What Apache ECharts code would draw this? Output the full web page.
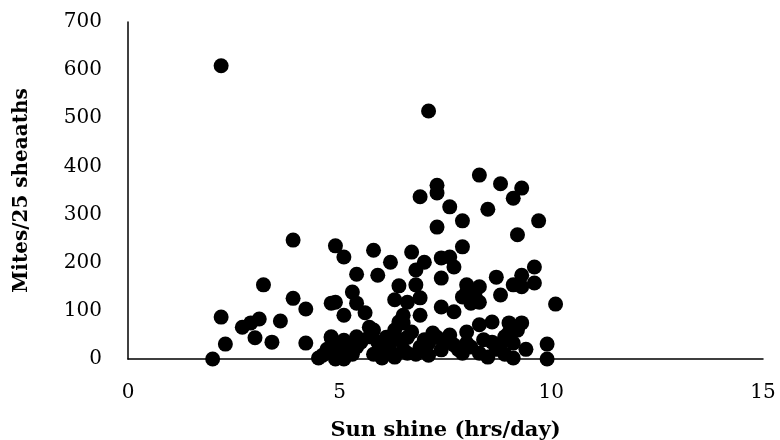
<!DOCTYPE html>
<html>
<head>
<meta charset="utf-8">
<script src="https://cdn.jsdelivr.net/npm/echarts@6/dist/echarts.min.js"></script>
<style>
  html, body { margin: 0; padding: 0; background: #fff; }
  #chart { width: 780px; height: 440px; }
</style>
</head>
<body>
<div id="chart"></div>
<script>
// sunshine (hrs/day) and mites per 25 sheaths
var sunshine = [
    2.0, 2.2, 2.2, 2.3, 2.7, 2.9, 3.0, 3.1, 3.2, 3.4,
    3.6, 3.9, 3.9, 4.2, 4.2, 4.5, 4.6, 4.8, 4.8, 4.9,
    4.9, 4.9, 4.9, 4.8, 5.1, 5.1, 5.1, 5.1, 5.3, 5.4,
    5.4, 5.4, 5.4, 5.6, 5.7, 5.7, 5.8, 5.8, 5.9, 5.9,
    6.0, 6.0, 6.2, 6.3, 6.3, 6.3, 6.4, 6.4, 6.5, 6.5,
    6.6, 6.6, 6.7, 6.7, 6.8, 6.8, 6.9, 6.9, 6.9, 6.9,
    7.0, 7.1, 7.1, 7.1, 7.2, 7.3, 7.3, 7.3, 7.4, 7.4,
    7.4, 7.4, 7.6, 7.6, 7.6, 7.7, 7.7, 7.7, 7.9, 7.9,
    7.9, 7.9, 8.0, 8.0, 8.0, 8.0, 8.1, 8.3, 8.3, 8.3,
    8.3, 8.3, 8.2, 8.5, 8.5, 8.6, 8.6, 8.7, 8.8, 8.8,
    8.9, 9.0, 9.1, 9.1, 9.1, 9.1, 9.2, 9.3, 9.3, 9.3,
    9.3, 9.6, 9.6, 9.7, 9.9, 9.9, 10.1, 5.2, 5.5, 6.1,
    6.2, 6.4, 6.6, 7.0, 7.3, 7.8, 8.4, 8.7, 8.8, 9.0,
    9.2, 4.7, 5.0, 5.3, 6.2, 6.8, 5.8, 6.1, 6.5, 7.5,
    8.1, 8.9, 9.4
];
var mites = [
    0, 609, 87, 31, 66, 75, 44, 83, 154, 35,
    79, 247, 126, 104, 33, 2, 8, 44, 116, 118,
    235, 25, 0, 46, 212, 91, 39, 0, 139, 176,
    116, 25, 46, 96, 66, 46, 226, 60, 174, 35,
    19, 2, 201, 123, 60, 4, 152, 77, 75, 91,
    118, 12, 222, 56, 154, 185, 25, 127, 91, 337,
    201, 515, 8, 33, 54, 361, 345, 274, 19, 210,
    168, 108, 316, 212, 50, 191, 98, 29, 287, 233,
    129, 12, 154, 139, 33, 56, 116, 150, 118, 382,
    71, 12, 130, 311, 4, 77, 35, 170, 364, 133,
    46, 75, 334, 154, 33, 2, 258, 355, 174, 150,
    75, 191, 158, 287, 31, 0, 114, 30, 35, 30,
    15, 40, 45, 40, 45, 20, 40, 20, 30, 55,
    60, 20, 15, 10, 35, 10, 10, 45, 20, 35,
    25, 10, 20
];

var points = sunshine.map(function (x, i) {
    return [x, mites[i]];
});

var myChart = echarts.init(document.getElementById('chart'));
myChart.setOption({
    backgroundColor: '#ffffff',
    animation: false,
    textStyle: {
        fontFamily: 'DejaVu Serif'
    },
    grid: {
        left: 128,
        right: 17,
        top: 22,
        bottom: 81,
        containLabel: false,
        outerBoundsMode: 'none'
    },
    xAxis: {
        type: 'value',
        min: 0,
        max: 15,
        interval: 5,
        name: 'Sun shine (hrs/day)',
        nameLocation: 'middle',
        nameGap: 61,
        nameTextStyle: {
            fontFamily: 'DejaVu Serif',
            fontWeight: 'bold',
            fontSize: 21,
            color: '#000'
        },
        axisLine: {
            lineStyle: {color: '#000', width: 1.5}
        },
        axisTick: {show: false},
        splitLine: {show: false},
        axisLabel: {
            color: '#000',
            fontSize: 20,
            margin: 24
        }
    },
    yAxis: {
        type: 'value',
        min: 0,
        max: 700,
        interval: 100,
        name: 'Mites/25 sheaaths',
        nameLocation: 'middle',
        nameGap: 96,
        nameTextStyle: {
            fontFamily: 'DejaVu Serif',
            fontWeight: 'bold',
            fontSize: 20,
            color: '#000'
        },
        axisLine: {
            show: true,
            lineStyle: {color: '#000', width: 1.5}
        },
        axisTick: {show: false},
        splitLine: {show: false},
        axisLabel: {
            color: '#000',
            fontSize: 20,
            margin: 26
        }
    },
    series: [{
        type: 'scatter',
        data: points,
        symbol: 'circle',
        symbolSize: 15,
        itemStyle: {
            color: '#000',
            opacity: 1
        }
    }]
});
</script>
</body>
</html>
